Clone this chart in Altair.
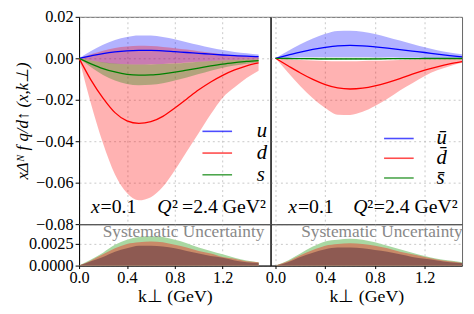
import altair as alt
import pandas as pd

# ---------------- data ----------------
k = [0.0, 0.1, 0.2, 0.3, 0.4, 0.5, 0.6, 0.7, 0.8, 0.9, 1.0, 1.1, 1.2, 1.3, 1.4, 1.5]

# quarks (left panel)
u_c  = [0, .0012, .0023, .0031, .0036, .0038, .0038, .0036, .0032, .0028, .0024, .0020, .0016, .0013, .0010, .0008]
u_hi = [0, .0035, .0065, .0088, .0103, .0110, .0110, .0103, .0092, .0078, .0064, .0051, .0040, .0031, .0024, .0018]
u_lo = [0, -.0010, -.0020, -.0026, -.0029, -.0030, -.0029, -.0027, -.0024, -.0020, -.0017, -.0013, -.0010, -.0008, -.0006, -.0004]
d_c  = [0, -.0105, -.0192, -.0262, -.0302, -.0314, -.0306, -.0280, -.0240, -.0196, -.0152, -.0114, -.0082, -.0056, -.0036, -.0022]
d_hi = [0, .0020, .0037, .0050, .0057, .0060, .0059, .0055, .0049, .0042, .0034, .0027, .0020, .0015, .0010, .0007]
d_lo = [0, -.0220, -.0410, -.0560, -.0650, -.0685, -.0670, -.0620, -.0540, -.0450, -.0360, -.0270, -.0190, -.0140, -.0095, -.0060]
s_c  = [0, -.0027, -.0050, -.0066, -.0077, -.0081, -.0080, -.0075, -.0067, -.0057, -.0047, -.0037, -.0028, -.0021, -.0015, -.0011]
s_hi = [0, -.0010, -.0019, -.0025, -.0029, -.0030, -.0030, -.0028, -.0025, -.0021, -.0017, -.0013, -.0010, -.0008, -.0006, -.0004]
s_lo = [0, -.0043, -.0080, -.0107, -.0124, -.0130, -.0128, -.0120, -.0107, -.0092, -.0076, -.0060, -.0046, -.0035, -.0026, -.0019]

# antiquarks (right panel)
ub_c  = [0, .0015, .0030, .0043, .0053, .0060, .0062, .0060, .0055, .0049, .0042, .0035, .0028, .0020, .0013, .0007]
ub_hi = [0, .0035, .0068, .0095, .0118, .0132, .0133, .0128, .0117, .0102, .0086, .0069, .0053, .0039, .0028, .0019]
ub_lo = [0, .0002, .0004, .0005, .0005, .0005, .0005, .0005, .0004, .0004, .0003, .0003, .0002, .0002, .0001, .0001]
db_c  = [0, -.0036, -.0071, -.0102, -.0127, -.0143, -.0148, -.0144, -.0133, -.0117, -.0098, -.0076, -.0057, -.0041, -.0027, -.0016]
db_hi = [0, -.0004, -.0008, -.0011, -.0013, -.0014, -.0014, -.0013, -.0012, -.0010, -.0008, -.0006, -.0005, -.0004, -.0003, -.0002]
db_lo = [0, -.0068, -.0135, -.0193, -.0240, -.0272, -.0273, -.0258, -.0230, -.0195, -.0155, -.0120, -.0085, -.0058, -.0038, -.0022]
sb_c  = [0, -.0001, -.0002, -.0002, -.0003, -.0003, -.0003, -.0003, -.0003, -.0002, -.0002, -.0002, -.0001, -.0001, -.0001, -.0001]
sb_hi = [0, .0001, .0002, .0003, .0003, .0003, .0003, .0003, .0003, .0002, .0002, .0002, .0001, .0001, .0001, .0001]
sb_lo = [0, -.0003, -.0005, -.0007, -.0008, -.0008, -.0008, -.0008, -.0007, -.0006, -.0005, -.0004, -.0003, -.0003, -.0002, -.0002]

# systematic uncertainty (bottom panels)
sysL_s = [0, .0007, .0015, .0024, .0030, .0033, .0034, .0033, .0030, .0026, .0021, .0017, .0013, .0009, .0006, .0004]
sysL_d = [0, .0006, .0013, .0020, .0025, .0027, .0028, .0027, .0024, .0021, .0017, .0014, .0010, .0008, .0005, .0004]
sysL_u = [0, .0005, .0010, .0016, .0020, .0023, .0023, .0022, .0020, .0017, .0014, .0011, .0009, .0006, .0004, .0003]
sysR_s = [0, .0006, .0014, .0022, .0028, .0030, .0031, .0030, .0027, .0023, .0019, .0015, .0011, .0008, .0006, .0004]
sysR_d = [0, .0005, .0012, .0018, .0023, .0025, .0026, .0025, .0023, .0020, .0016, .0013, .0010, .0007, .0005, .0003]
sysR_u = [0, .0004, .0010, .0015, .0019, .0021, .0021, .0020, .0018, .0016, .0013, .0010, .0008, .0006, .0004, .0003]

quarks = ["u", "d", "s"]
antiquarks = ["u\u0304", "d\u0304", "s\u0304"]
colors = ["#0000ff", "#ff0000", "#008000"]
sys_colors = ["#a9d8a2", "#c98a68", "#8e5a52"]   # s, d, u fills

xticks = [0.0, 0.2, 0.4, 0.6, 0.8, 1.0, 1.2, 1.4]
yticks_main = [-0.08, -0.06, -0.04, -0.02, 0.0, 0.02]
yticks_sys = [0.0, 0.0025]

ann_it_text = ["x", "Q"]
ann_rm_text = ["=0.1", "\u00b2", "=2.4 GeV\u00b2"]
ann_it_kL = [0.10, 0.653]
ann_rm_kL = [0.18, 0.777, 0.86]
ann_it_kR = [0.103, 0.625]
ann_rm_kR = [0.18, 0.738, 0.79]
ann_y = -0.0748
sys_label = "Systematic Uncertainty"
sys_label_kL = 0.198
sys_label_kR = 0.206
sys_label_y = 0.0033

SERIF = "Liberation Serif"


def band_frame(names, cs, los, his):
    rows = []
    for n, c, lo, hi in zip(names, cs, los, his):
        for kk, a, b, cc in zip(k, lo, hi, c):
            rows.append({"k": kk, "flavor": n, "lo": a, "hi": b, "c": cc})
    return pd.DataFrame(rows)


def main_panel(df, names, xdom, left, lx, ly, lclip, lrow, loff, it_k, rm_k):
    xs = alt.Scale(domain=xdom, nice=False, zero=False)
    ys = alt.Scale(domain=[-0.08, 0.02], nice=False, zero=False)
    xax = alt.Axis(values=xticks, labels=False, ticks=False, title=None, domainColor="black")
    if left:
        yax = alt.Axis(values=yticks_main, format=".2f", title="x\u0394\u1d3a f q/d\u2191 (x,k\u22a5)",
                       titleFontStyle="italic", titleFontSize=17, titlePadding=4, tickSize=4)
    else:
        yax = alt.Axis(values=yticks_main, labels=False, ticks=False, title=None)
    cscale = alt.Scale(domain=names, range=colors)
    leg = alt.Legend(
        orient="none", legendX=lx, legendY=ly, title=None,
        symbolType="stroke", symbolSize=900, symbolStrokeWidth=1.6, symbolOpacity=0.7,
        labelFont=SERIF, labelFontStyle="italic", labelFontSize=21, labelOffset=loff,
        clipHeight=lclip, rowPadding=lrow, labelColor="black")
    X = alt.X("k:Q", scale=xs, axis=xax)
    base = alt.Chart(df)
    areas = base.mark_area(opacity=0.3, interpolate="monotone").encode(
        x=X, y=alt.Y("lo:Q", scale=ys, axis=yax), y2="hi:Q",
        color=alt.Color("flavor:N", scale=cscale, legend=leg),
    )
    lines = base.mark_line(strokeWidth=1.3, interpolate="monotone").encode(
        x=X, y=alt.Y("c:Q", scale=ys),
        color=alt.Color("flavor:N", scale=cscale, legend=leg),
    )
    it_df = pd.DataFrame({"k": it_k, "y": [ann_y] * len(it_k), "t": ann_it_text})
    rm_df = pd.DataFrame({"k": rm_k, "y": [ann_y] * len(rm_k), "t": ann_rm_text})
    t1 = alt.Chart(it_df).mark_text(font=SERIF, fontStyle="italic", fontSize=20, align="left",
                                    baseline="alphabetic", color="black").encode(
        x=alt.X("k:Q", scale=xs), y=alt.Y("y:Q", scale=ys), text="t:N")
    t2 = alt.Chart(rm_df).mark_text(font=SERIF, fontSize=20, align="left",
                                    baseline="alphabetic", color="black").encode(
        x=alt.X("k:Q", scale=xs), y=alt.Y("y:Q", scale=ys), text="t:N")
    return alt.layer(areas, lines, t1, t2).properties(width=194, height=210)


def sys_panel(vals, xdom, left, lab_k):
    xs = alt.Scale(domain=xdom, nice=False, zero=False)
    ys = alt.Scale(domain=[0, 0.0048], nice=False, zero=False)
    xax = alt.Axis(values=xticks, format=".1f", title="k\u22a5 (GeV)", titleFontSize=18,
                   titleFontWeight="normal", titlePadding=2, tickSize=3, labelPadding=1,
                   labelFlush=False, labelOverlap=False, labelBound=False)
    if left:
        yax = alt.Axis(values=yticks_sys, format=".4f", title=None, tickSize=4)
    else:
        yax = alt.Axis(values=yticks_sys, labels=False, ticks=False, title=None)
    layers = []
    for v, col in zip(vals, sys_colors):
        d = pd.DataFrame({"k": k, "v": v})
        layers.append(alt.Chart(d).mark_area(color=col, opacity=1, interpolate="monotone").encode(
            x=alt.X("k:Q", scale=xs, axis=xax), y=alt.Y("v:Q", scale=ys, axis=yax)))
    lab = alt.Chart(pd.DataFrame({"k": [lab_k], "y": [sys_label_y], "t": [sys_label]})).mark_text(
        font=SERIF, fontSize=17.5, align="left", baseline="alphabetic", color="#888888").encode(
        x=alt.X("k:Q", scale=xs), y=alt.Y("y:Q", scale=ys), text="t:N")
    return alt.layer(*layers, lab).properties(width=194, height=42)


dfL = band_frame(quarks, [u_c, d_c, s_c], [u_lo, d_lo, s_lo], [u_hi, d_hi, s_hi])
dfR = band_frame(antiquarks, [ub_c, db_c, sb_c], [ub_lo, db_lo, sb_lo], [ub_hi, db_hi, sb_hi])

chart = alt.concat(
    main_panel(dfL, quarks, [0, 1.6], True, 124, 105.5, 21, 0, 24, ann_it_kL, ann_rm_kL),
    main_panel(dfR, antiquarks, [-0.04, 1.5], False, 114, 114, 18.5, -4, 22, ann_it_kR, ann_rm_kR),
    sys_panel([sysL_s, sysL_d, sysL_u], [0, 1.6], True, sys_label_kL),
    sys_panel([sysR_s, sysR_d, sysR_u], [-0.04, 1.5], False, sys_label_kR),
    columns=2, spacing=0, bounds="flush",
).resolve_scale(
    color="independent", x="independent", y="independent"
).resolve_legend(color="independent").properties(
    padding={"left": 5, "top": -2, "right": 0, "bottom": 0}
).configure_view(stroke="#666666", strokeWidth=1).configure_axis(
    labelFont=SERIF, labelFontSize=16.5, labelColor="black", titleFont=SERIF,
    titleColor="black", titleFontWeight="normal", domainColor="black", tickColor="black",
    gridColor="#bbbbbb", gridDash=[2, 3], gridWidth=0.8, labelOverlap=False,
).configure_concat(spacing=0)

chart.save("out.html", embed_options={"renderer": "svg", "actions": False})
